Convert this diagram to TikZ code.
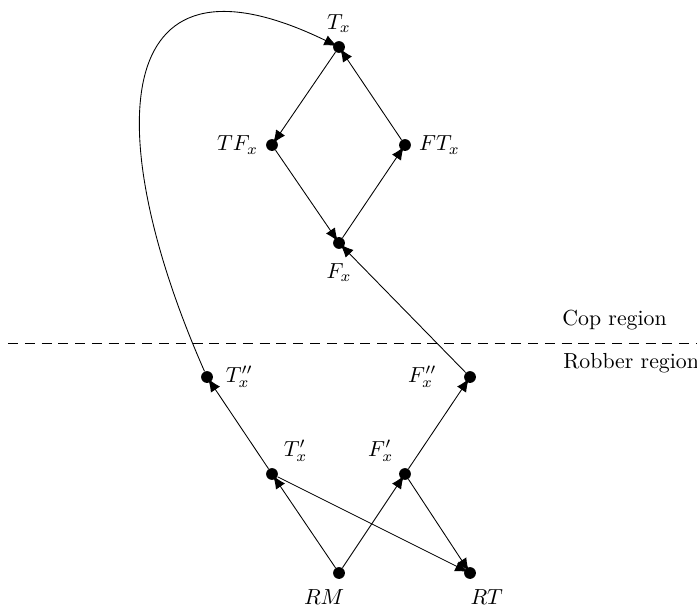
\documentclass[tikz,border=0pt]{standalone}
\usetikzlibrary{arrows.meta}
\begin{document}
\begin{tikzpicture}[
        vertex/.style={circle, fill=black, inner sep=0pt, minimum size=0.19cm, label distance=1.8pt},
        move/.style={-{Latex[length=6pt, width=5pt]}, shorten >=-2pt},
        region/.style={anchor=west, inner sep=0pt},
        foot/.style={inner sep=0pt, label distance=4.6pt}
    ]

        \useasboundingbox (0,0) rectangle (11.242,-9.790);

        % cop side
        \node[vertex, label=90:$T_x$]     (Tx)  at (5.468,-0.758) {};
        \node[vertex, label=180:$TF_x$]   (TFx) at (4.387,-2.339) {};
        \node[vertex, label=0:$FT_x$]     (FTx) at (6.532,-2.339) {};
        \node[vertex, label={[label distance=3pt]270:$F_x$}] (Fx) at (5.468,-3.919) {};

        % robber side
        \node[vertex, label={[label distance=2.2pt]0:$T''_x$}]  (Tpp) at (3.339,-6.081) {};
        \node[vertex, label={[label distance=9pt]180:$F''_x$}]  (Fpp) at (7.581,-6.081) {};
        \node[vertex, label=50:$T'_x$]    (Tp)  at (4.387,-7.645) {};
        \node[vertex, label=130:$F'_x$]   (Fp)  at (6.532,-7.645) {};
        \node[vertex, label={[foot, xshift=-0.24cm]270:$RM$}] (RM) at (5.468,-9.242) {};
        \node[vertex, label={[foot, xshift=0.27cm]270:$RT$}]  (RT) at (7.581,-9.242) {};

        \coordinate (cutL) at (0.129,-5.532);
        \coordinate (cutR) at (11.242,-5.532);
        \draw[dash pattern=on 4.6pt off 3.1pt] (cutL) -- (cutR);
        \node[region] (cop) at (9.065,-5.161) {Cop region};
        \node[region] (rob) at (9.081,-5.855) {Robber region};

        \draw[move] (Tx) -- (TFx);
        \draw[move] (TFx) -- (Fx);
        \draw[move] (Fx) -- (FTx);
        \draw[move] (FTx) -- (Tx);
        \draw[move] (Fpp) -- (Fx);
        \draw[move] (Tpp) .. controls (1.645,-2.242) and (1.694,1.074) .. (Tx);
        \draw[move] (Tp) -- (Tpp);
        \draw[move] (Fp) -- (Fpp);
        \draw[move] (RM) -- (Tp);
        \draw[move] (RM) -- (Fp);
        \draw[move] (Tp) -- (RT);
        \draw[move] (Fp) -- (RT);

    \end{tikzpicture}
\end{document}
